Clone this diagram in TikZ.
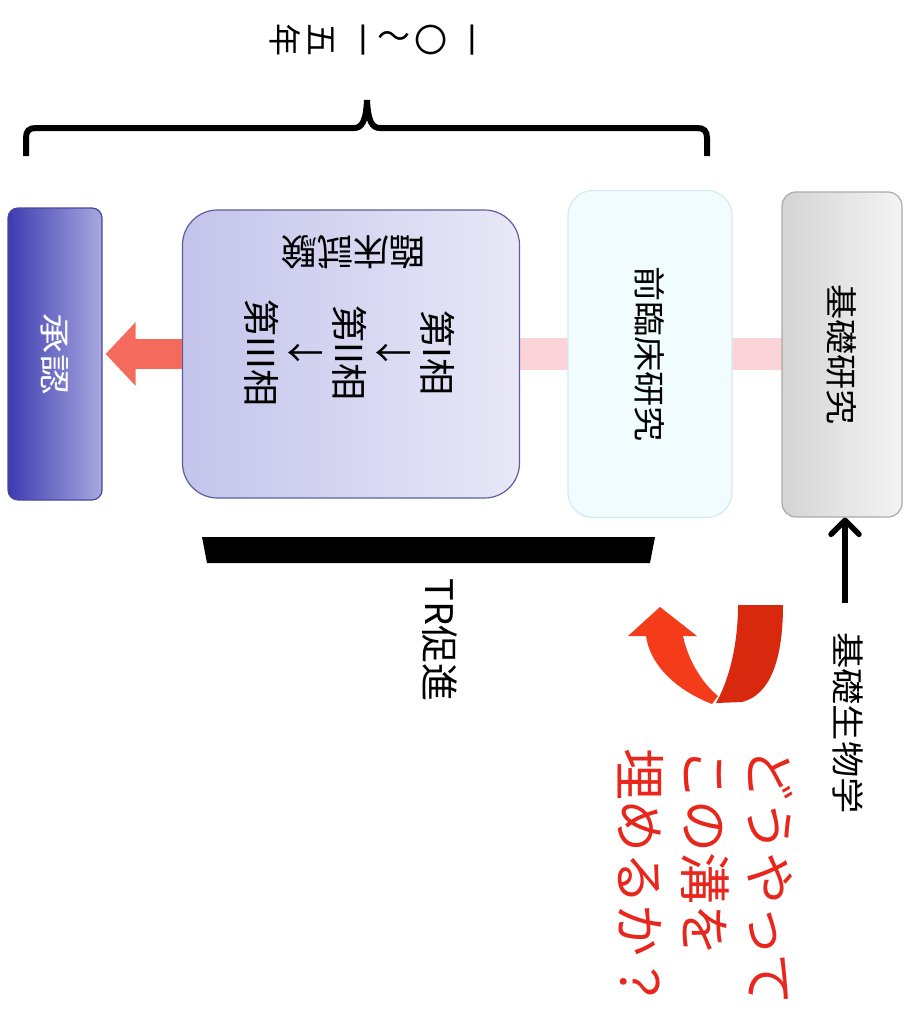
\documentclass[tikz,border=0pt]{standalone}
\usepackage{fontspec}
\setmainfont{Noto Sans CJK JP}
\usetikzlibrary{arrows.meta}
\definecolor{apprL}{HTML}{3C3CB0}
\definecolor{apprR}{HTML}{A8A8E0}
\definecolor{apprD}{HTML}{4848A0}
\definecolor{clinL}{HTML}{C4C4EC}
\definecolor{clinR}{HTML}{E8E8F7}
\definecolor{clinD}{HTML}{5E5E9E}
\definecolor{preF}{HTML}{F0FCFD}
\definecolor{preD}{HTML}{D5EBEE}
\definecolor{baseL}{HTML}{D4D4D4}
\definecolor{baseR}{HTML}{F4F4F4}
\definecolor{baseD}{HTML}{ABABAB}
\definecolor{bandC}{HTML}{FBD3D8}
\definecolor{salmon}{HTML}{F46B5D}
\definecolor{ribDark}{HTML}{D8280E}
\definecolor{ribLight}{HTML}{F43B1A}
\definecolor{qred}{HTML}{E8261C}
\newcommand{\vtxt}[2]{\rotatebox{-90}{\scalebox{#1}[1]{#2}}}
\begin{document}
\begin{tikzpicture}[x=1pt,y=-1pt,
  stagebox/.style={inner sep=0pt, line width=1.2pt},
  band/.style={line width=32pt, draw=bandC},
  bigarrow/.style={line width=30pt, draw=salmon, -{Triangle[length=30pt,width=62pt]}, shorten >=3pt},
  blkarrow/.style={line width=5.5pt, -{Straight Barb[length=14pt,width=28pt,round]}},
  boxtext/.style={font=\fontsize{32}{32}\selectfont},
  brace/.style={line width=6pt}
]
\useasboundingbox[fill=white] (0,0) rectangle (913,1023);

% bands behind boxes
\coordinate (b1) at (782,354);
\coordinate (b2) at (732,354);
\coordinate (b3) at (568,354);
\coordinate (b4) at (519,354);
\draw[band] (b1) -- (b2);
\draw[band] (b3) -- (b4);

% boxes
\node[stagebox, minimum width=94pt, minimum height=292pt, rounded corners=10pt,
      left color=apprL, right color=apprR, draw=apprD, text=white,
      font=\fontsize{31}{31}\selectfont] (appr) at (55,354) {\vtxt{1.3}{承認}};
\node[stagebox, minimum width=337pt, minimum height=288pt, rounded corners=35pt,
      left color=clinL, right color=clinR, draw=clinD] (clin) at (351,354) {};
\node[stagebox, minimum width=164pt, minimum height=327pt, rounded corners=25pt,
      fill=preF, draw=preD, boxtext] (pre) at (650,354) {\vtxt{1.1}{前臨床研究}};
\node[stagebox, minimum width=120pt, minimum height=325pt, rounded corners=14pt,
      left color=baseL, right color=baseR, draw=baseD, boxtext] (base) at (842,354.5) {\vtxt{1.1}{基礎研究}};

% texts inside clinical box
\node[rotate=180, font=\fontsize{36}{36}\selectfont, inner sep=0pt] (cliT) at (353,252) {臨床試験};
\node[rotate=-90, align=center, font=\fontsize{37}{44}\selectfont, inner sep=0pt] (phases) at (350,353)
  {第I相\\↓\\第II相\\↓\\第III相};

% red arrow to approval
\draw[bigarrow] (clin.west) -- (appr.east);

% basic biology
\node[font=\fontsize{33}{33}\selectfont, inner sep=0pt] (bio) at (848,723) {\vtxt{1.1}{基礎生物学}};
\coordinate (bstart) at (845,603);
\draw[blkarrow] (bstart) -- (bstart |- base.south);

% TR bar
\fill (202,537) -- (655,537) -- (650,563) -- (207,563) -- cycle;
\node[rotate=-90, font=\fontsize{38}{38}\selectfont, inner sep=0pt] (tr) at (440,640) {TR促進};

% brace
\draw[brace] (26,156) -- (26,138) .. controls (26,131) and (29,128) .. (36,128)
  -- (354,128) .. controls (362,128) and (366,121) .. (367,100)
  .. controls (368,121) and (372,128) .. (380,128)
  -- (697,128) .. controls (704,128) and (707,131) .. (707,138) -- (707,156);

% years label (vertical writing, rotated)
\foreach \c/\r [count=\i] in {一/-90,〇/-90,～/0,一/-90,五/-90,年/-90}
  \node[rotate=\r, font=\fontsize{33}{33}\selectfont, inner sep=0pt] (yr\i) at ({467-36.4*(\i-1)},40) {\c};

% U-turn ribbon arrow
\fill[ribDark] (738,605) -- (783,605) .. controls (783,660) and (770,695) .. (742,702)
  -- (716,703) .. controls (729,680) and (738,645) .. cycle;
\fill[ribLight] (660,607) -- (697,636) -- (683,636) .. controls (688,660) and (702,683) .. (718,696)
  -- (712,704) .. controls (676,690) and (650,665) .. (646,636) -- (628,636) -- cycle;

% question text
\node[rotate=-90, align=left, text=qred, font=\fontsize{52}{65}\selectfont, inner sep=0pt] (q) at (705,878)
  {どうやって\\この溝を\\埋めるか？};
\end{tikzpicture}
\end{document}
